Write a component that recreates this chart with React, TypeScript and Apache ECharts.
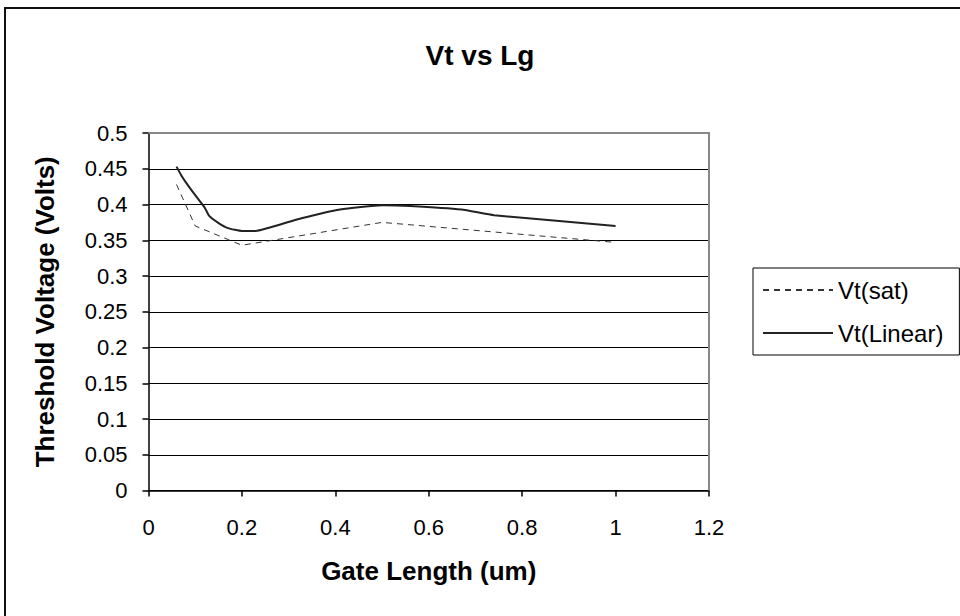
import React, { useEffect, useRef } from "react";
import * as echarts from "echarts";

// Gate length (um) and threshold voltages (V)
const satLg = [0.06, 0.1, 0.2, 0.5, 1.0];
const satVt = [0.428, 0.37, 0.343, 0.375, 0.347];

const linLg = [0.06, 0.07, 0.08, 0.1, 0.12, 0.13, 0.15, 0.17, 0.2, 0.23, 0.25, 0.33, 0.41, 0.5, 0.56, 0.67, 0.74, 1.0];
const linVt = [0.453, 0.441, 0.431, 0.413, 0.396, 0.384, 0.374, 0.367, 0.363, 0.363, 0.366, 0.381, 0.393, 0.399, 0.398, 0.393, 0.385, 0.37];

const seriesNames = ["Vt(sat)", "Vt(Linear)"];
const chartTitle = "Vt vs Lg";
const xTitle = "Gate Length (um)";
const yTitle = "Threshold Voltage (Volts)";

const FONT = "'Liberation Sans', Arial, Helvetica, sans-serif";
const G = { left: 148.5, top: 133, right: 251, bottom: 125.5 };

export default function App() {
  const ref = useRef<HTMLDivElement>(null);
  useEffect(() => {
    if (!ref.current) return;
    const chart = echarts.init(ref.current, null, { renderer: "svg" });
    const pw = 960 - G.left - G.right;
    const ph = 616 - G.top - G.bottom;
    chart.setOption({
      animation: false,
      backgroundColor: "#ffffff",
      textStyle: { fontFamily: FONT },
      title: {
        text: chartTitle,
        left: "center",
        top: 36,
        textStyle: { fontFamily: FONT, fontSize: 28, fontWeight: "bold", color: "#000" },
      },
      grid: { left: G.left, top: G.top, right: G.right, bottom: G.bottom, containLabel: false },
      legend: {
        orient: "vertical",
        left: 753,
        top: 268,
        padding: [10, 16, 10, 9],
        borderColor: "#000",
        borderWidth: 1,
        backgroundColor: "#fff",
        itemWidth: 70,
        itemHeight: 24,
        itemGap: 19,
        itemStyle: { opacity: 0, borderWidth: 0 },
        data: seriesNames,
        textStyle: { fontFamily: FONT, fontSize: 24, color: "#000", lineHeight: 24 },
      },
      xAxis: {
        type: "value",
        min: 0,
        max: 1.2,
        interval: 0.2,
        name: xTitle,
        nameLocation: "middle",
        nameGap: 67,
        nameTextStyle: { fontFamily: FONT, fontSize: 26, fontWeight: "bold", color: "#000" },
        axisLine: { show: true, onZero: false, lineStyle: { color: "#000", width: 1.5 } },
        axisTick: { show: true, inside: false, length: 6, lineStyle: { color: "#000", width: 1.5 } },
        axisLabel: { margin: 26, fontFamily: FONT, fontSize: 22, color: "#000", formatter: (v: number) => String(Number(v.toFixed(2))) },
        splitLine: { show: false },
      },
      yAxis: {
        type: "value",
        min: 0,
        max: 0.5,
        interval: 0.05,
        name: yTitle,
        nameLocation: "middle",
        nameGap: 91,
        nameTextStyle: { fontFamily: FONT, fontSize: 26, fontWeight: "bold", color: "#000" },
        axisLine: { show: true, lineStyle: { color: "#000", width: 1.5 } },
        axisTick: { show: true, inside: false, length: 6, lineStyle: { color: "#000", width: 1.5 } },
        axisLabel: { margin: 21, fontFamily: FONT, fontSize: 22, color: "#000", formatter: (v: number) => String(Number(v.toFixed(2))) },
        splitLine: { show: true, lineStyle: { color: "#000", width: 1 } },
      },
      graphic: [
        {
          type: "rect",
          z: -1,
          shape: { x: 5, y: 8, width: 1100, height: 800 },
          style: { fill: "none", stroke: "#111", lineWidth: 2 },
        },
        {
          type: "polyline",
          z: 10,
          shape: { points: [[G.left, G.top], [G.left + pw, G.top], [G.left + pw, G.top + ph]] },
          style: { fill: "none", stroke: "#888", lineWidth: 2 },
        },
      ],
      series: [
        {
          name: seriesNames[0],
          type: "line",
          data: satLg.map((x, i) => [x, satVt[i]]),
          symbol: "none",
          lineStyle: { color: "#333", width: 1, type: [6, 5] },
          itemStyle: { color: "#333" },
          z: 3,
        },
        {
          name: seriesNames[1],
          type: "line",
          data: linLg.map((x, i) => [x, linVt[i]]),
          symbol: "none",
          smooth: 0.15,
          lineStyle: { color: "#222", width: 2 },
          itemStyle: { color: "#222" },
          z: 4,
        },
      ],
    });
    return () => chart.dispose();
  }, []);
  return (
    <div
      ref={ref}
      style={{ position: "fixed", left: 0, top: 0, width: 960, height: 616, background: "#fff" }}
    />
  );
}
